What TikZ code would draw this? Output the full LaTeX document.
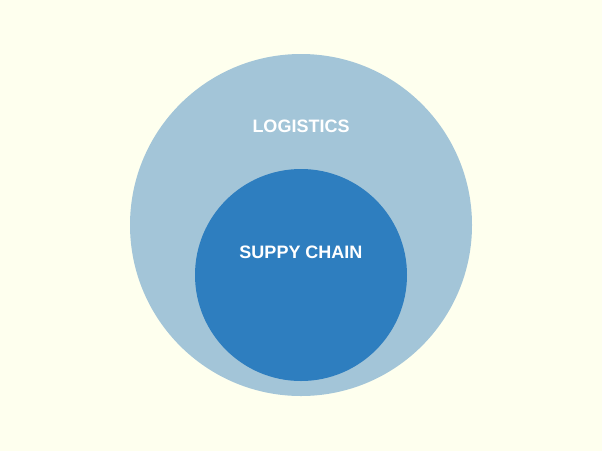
\documentclass[tikz,border=0pt]{standalone}
\usepackage{fontspec}
\setmainfont{Liberation Sans}
\definecolor{bg}{HTML}{FEFFEE}
\definecolor{outerc}{HTML}{A3C5D8}
\definecolor{innerc}{HTML}{2E7EBF}
\tikzset{lbl/.style={text=white,font=\bfseries\fontsize{18}{21}\selectfont,inner sep=0pt}}
\begin{document}
\begin{tikzpicture}[x=1pt,y=-1pt]
\fill[bg] (0,0) rectangle (602,451);
\useasboundingbox (0,0) rectangle (602,451);
\fill[outerc] (301,225) circle[radius=171];
\fill[innerc] (301,275) circle[radius=106];
\node[lbl] (log) at (301,126) {LOGISTICS};
\node[lbl] (sc) at (301,252) {SUPPY CHAIN};
\end{tikzpicture}
\end{document}
